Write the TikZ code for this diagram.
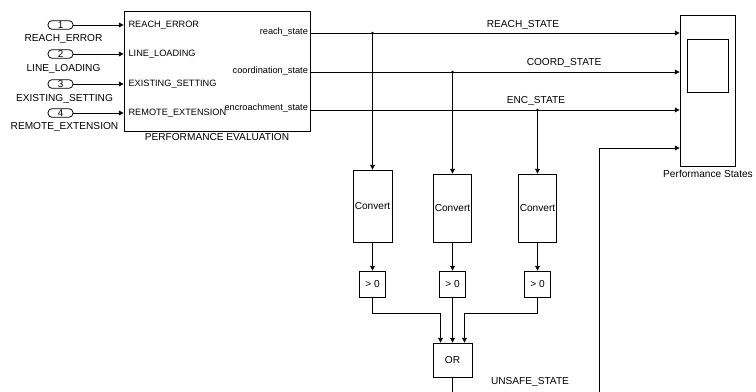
\documentclass[tikz,border=0pt]{standalone}
\usepackage{fontspec}
\setmainfont{Liberation Sans}
\usetikzlibrary{arrows.meta}

\begin{document}
\begin{tikzpicture}[x=0.75pt, y=-0.75pt,
  blk/.style={draw, line width=0.6pt, inner sep=0pt},
  inport/.style={draw, line width=0.6pt, rounded corners=3pt, minimum width=18.75pt,
    minimum height=6.5pt, inner sep=0pt, font=\fontsize{7.4}{7}\selectfont},
  lbl/.style={font=\fontsize{7.6}{9}\selectfont, inner sep=1pt},
  plbl/.style={font=\fontsize{6.9}{8}\selectfont, inner sep=1pt},
  sig/.style={line width=0.6pt},
  arr/.style={sig, -{Triangle[length=3.5pt,width=3.5pt]}},
  dot/.style={circle, fill, inner sep=0pt, minimum size=2.2pt}]
\useasboundingbox (0,0) rectangle (756,392);
\clip (0,0) rectangle (756,392);

% inports
\node[inport] (in1) at (60.5,25) {1};
\node[inport] (in2) at (60.5,54) {2};
\node[inport] (in3) at (60.5,84) {3};
\node[inport] (in4) at (60.5,113) {4};
\node[lbl] (inname1) at (63.5,39) {REACH\_ERROR};
\node[lbl] (inname2) at (63.5,69) {LINE\_LOADING};
\node[lbl] (inname3) at (64.5,99) {EXISTING\_SETTING};
\node[lbl] (inname4) at (64.5,127) {REMOTE\_EXTENSION};

% performance evaluation subsystem
\node[blk, minimum width=139.5pt, minimum height=90pt] (perf) at (217,71) {};
\node[lbl] (perfname) at (217,137) {PERFORMANCE EVALUATION};
\node[plbl, anchor=west] (pin1) at (127,25) {REACH\_ERROR};
\node[plbl, anchor=west] (pin2) at (127,54) {LINE\_LOADING};
\node[plbl, anchor=west] (pin3) at (127,84) {EXISTING\_SETTING};
\node[plbl, anchor=west] (pin4) at (127,113) {REMOTE\_EXTENSION};
\node[plbl, anchor=east] (pout1) at (309.5,32) {reach\_state};
\node[plbl, anchor=east] (pout2) at (309.5,71) {coordination\_state};
\node[plbl, anchor=east] (pout3) at (309.5,108) {encroachment\_state};
\foreach \i in {1,...,4}
  \draw[arr] (in\i) -- (in\i -| perf.west);

% scope
\node[blk, minimum width=41.25pt, minimum height=113.25pt] (scope) at (707.5,90.5) {};
\node[blk, minimum width=30.75pt, minimum height=39.75pt] (screen) at (707.5,65.5) {};
\node[lbl] (scopename) at (708,174) {Performance States};

% signal lines
\coordinate (y1) at (0,33);
\coordinate (y2) at (0,72);
\coordinate (y3) at (0,110);
\coordinate (y4) at (0,148);
\draw[arr] (perf.east |- y1) -- (scope.west |- y1);
\draw[arr] (perf.east |- y2) -- (scope.west |- y2);
\draw[arr] (perf.east |- y3) -- (scope.west |- y3);
\node[lbl] (sig1) at (523,25) {REACH\_STATE};
\node[lbl] (sig2) at (564,63) {COORD\_STATE};
\node[lbl] (sig3) at (536,101) {ENC\_STATE};
\node[dot] (j1) at (372.5,33) {};
\node[dot] (j2) at (452.5,72) {};
\node[dot] (j3) at (537.5,110) {};

% conversion and compare blocks
\node[blk, lbl, minimum width=29.25pt, minimum height=54pt] (conv1) at (372.5,206) {Convert};
\node[blk, lbl, minimum width=27.75pt, minimum height=51pt] (conv2) at (452.5,208) {Convert};
\node[blk, lbl, minimum width=27.75pt, minimum height=51pt] (conv3) at (537.5,208) {Convert};
\node[blk, lbl, minimum size=19.5pt] (gt1) at (372.5,284) {> 0};
\node[blk, lbl, minimum size=19.5pt] (gt2) at (452.5,284) {> 0};
\node[blk, lbl, minimum size=19.5pt] (gt3) at (537.5,284) {> 0};
\foreach \i in {1,2,3} {
  \draw[arr] (j\i.center) -- (conv\i.north);
  \draw[arr] (conv\i) -- (gt\i);
}

% or gate
\node[blk, lbl, minimum width=29.25pt, minimum height=25.5pt] (orgate) at (452.5,360) {OR};
\coordinate (bus) at (0,313);
\coordinate (orL) at ([xshift=-9pt]orgate.north);
\coordinate (orR) at ([xshift=9pt]orgate.north);
\draw[arr] (gt1) |- (orL |- bus) -- (orL);
\draw[arr] (gt2) -- (orgate);
\draw[arr] (gt3) |- (orR |- bus) -- (orR);

% unsafe state back to scope
\coordinate (fb) at (599.5,400);
\draw[arr] (orgate.south) |- (fb) |- (scope.west |- y4);
\node[lbl] (unsafe) at (530,382) {UNSAFE\_STATE};
\end{tikzpicture}
\end{document}
